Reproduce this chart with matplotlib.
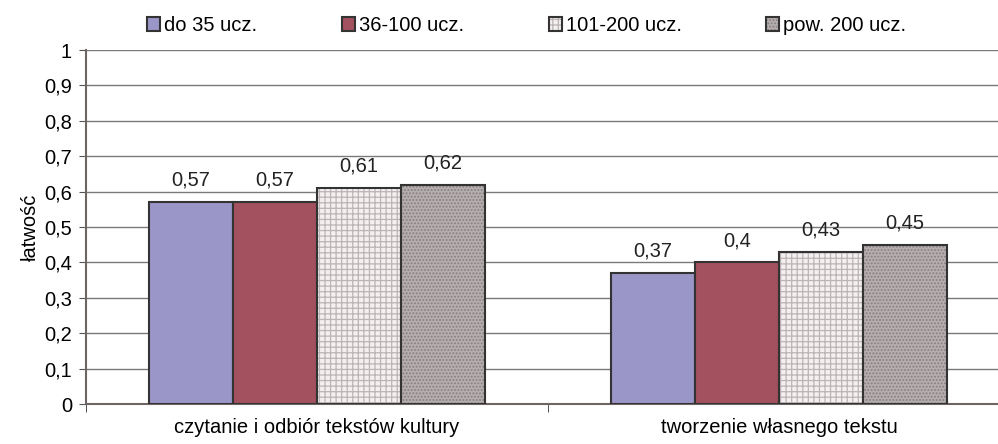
import numpy as np
import matplotlib.pyplot as plt
from matplotlib.colors import to_rgba

plt.rcParams['font.family'] = ['Liberation Sans', 'DejaVu Sans']
plt.rcParams['hatch.linewidth'] = 0.9

categories = ['czytanie i odbiór tekstów kultury', 'tworzenie własnego tekstu']
series = ['do 35 ucz.', '36-100 ucz.', '101-200 ucz.', 'pow. 200 ucz.']
values = [
    [0.57, 0.37],
    [0.57, 0.40],
    [0.61, 0.43],
    [0.62, 0.45],
]
labels = [
    ['0,57', '0,37'],
    ['0,57', '0,4'],
    ['0,61', '0,43'],
    ['0,62', '0,45'],
]
yticks = [0, 0.1, 0.2, 0.3, 0.4, 0.5, 0.6, 0.7, 0.8, 0.9, 1]
ytick_labels = ['0', '0,1', '0,2', '0,3', '0,4', '0,5', '0,6', '0,7', '0,8', '0,9', '1']

faces = ['#9b96c8', '#a3505f', '#f4f0f0', '#b5aeae']
hatches = [None, None, '+++', '.....']
hatch_cols = [None, None, '#bdb5b5', '#877f7f']

fs = 14.5

fig = plt.figure(figsize=(9.98, 4.44), dpi=100)
ax = fig.add_axes([86 / 998, 40 / 444, 924 / 998, 354 / 444])

x = np.arange(len(categories))
w = 0.182
for i in range(4):
    pos = x + (i - 1.5) * w
    bars = ax.bar(pos, values[i], w, color=faces[i], edgecolor='#333333',
                  linewidth=1.5, label=series[i], zorder=3)
    if hatches[i]:
        for b in bars:
            b.set_hatch(hatches[i])
            b._hatch_color = to_rgba(hatch_cols[i])
    for p, v, t in zip(pos, values[i], labels[i]):
        ax.text(p, v + 0.035, t, ha='center', va='bottom', fontsize=fs, color='#222222')

ax.set_xlim(-0.5, 1.5)
ax.set_ylim(0, 1)
ax.set_yticks(yticks)
ax.set_yticklabels(ytick_labels, fontsize=fs)
ax.set_xticks(x)
ax.set_xticklabels(categories, fontsize=fs)
ax.tick_params(axis='x', length=0, pad=10)
ax.set_xticks([-0.5, 0.5, 1.5], minor=True)
ax.tick_params(axis='x', which='minor', length=6, color='#333333')
ax.tick_params(axis='y', length=5, color='#555555', pad=5)
ax.grid(axis='y', color='#7a7a7a', linewidth=1, zorder=0)
ax.set_axisbelow(True)
for s in ['top', 'right']:
    ax.spines[s].set_visible(False)
ax.spines['left'].set_color('#6e6464')
ax.spines['left'].set_linewidth(1.5)
ax.spines['bottom'].set_color('#6e6464')
ax.spines['bottom'].set_linewidth(1.5)
ax.set_ylabel('łatwość', fontsize=fs, labelpad=3)

ax.legend(loc='upper center', bbox_to_anchor=(0.477, 1.118), ncol=4, frameon=False,
          fontsize=fs, handlelength=0.65, handleheight=0.65, handletextpad=0.2,
          columnspacing=4.2, borderaxespad=0)

fig.savefig('out.png', dpi=100)
